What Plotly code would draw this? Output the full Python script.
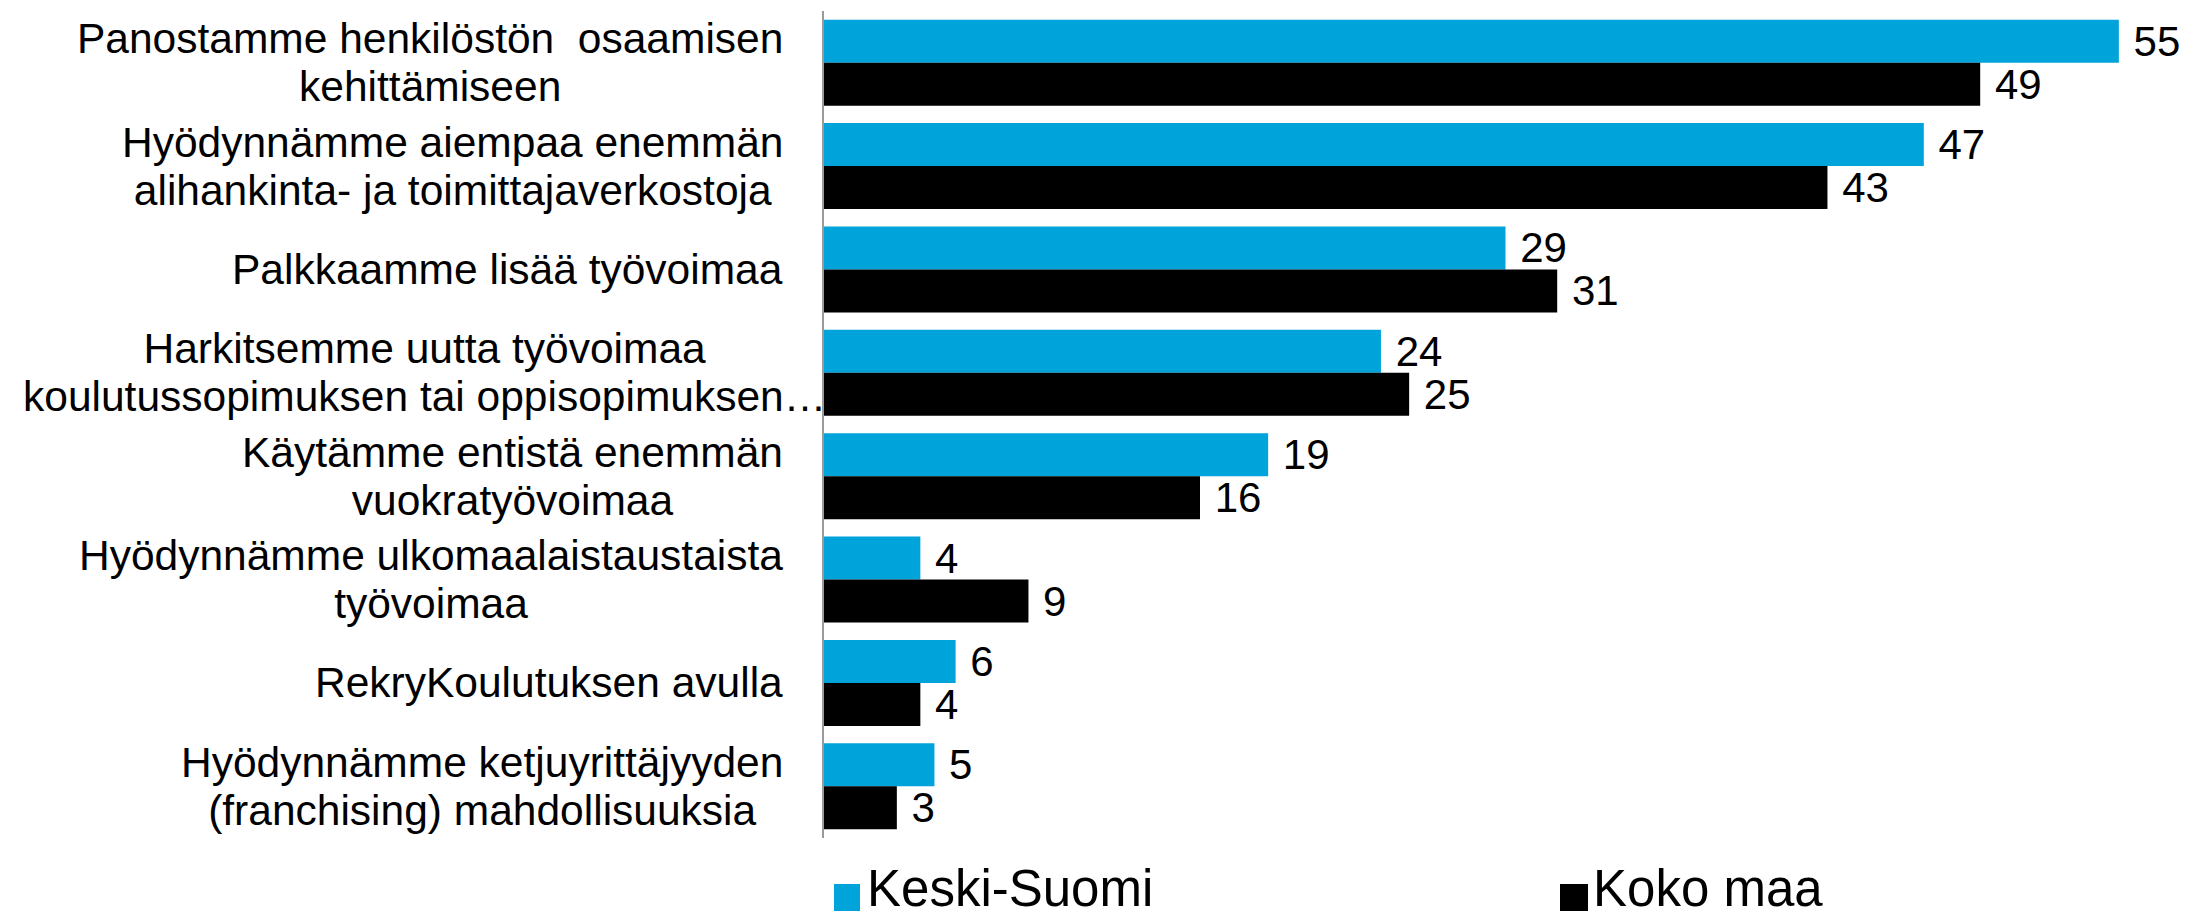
import plotly.graph_objects as go

categories = [
    "Panostamme henkilöstön\u00a0 osaamisen<br>kehittämiseen",
    "Hyödynnämme aiempaa enemmän<br>alihankinta- ja toimittajaverkostoja",
    "Palkkaamme lisää työvoimaa",
    "Harkitsemme uutta työvoimaa<br>koulutussopimuksen tai oppisopimuksen…",
    "Käytämme entistä enemmän<br>vuokratyövoimaa",
    "Hyödynnämme ulkomaalaistaustaista<br>työvoimaa",
    "RekryKoulutuksen avulla",
    "Hyödynnämme ketjuyrittäjyyden<br>(franchising) mahdollisuuksia",
]
keski_suomi = [55.1, 46.8, 29.0, 23.7, 18.9, 4.1, 5.6, 4.7]
koko_maa = [49.2, 42.7, 31.2, 24.9, 16.0, 8.7, 4.1, 3.1]
series_names = ["Keski-Suomi", "Koko maa"]
series_colors = ["#00A3DA", "#000000"]

W, H = 2197, 914
ML, MR, MT, MB = 816, 0, 3, 84
PW, PH = W - ML - MR, H - MT - MB
FONT = "Liberation Sans, Arial, sans-serif"
LABEL_SIZE = 42.5
LINE_GAP = 48  # px between label baselines


def px_x(px):
    return (px - ML) / PW


def px_y(py):
    return (H - MB - py) / PH


fig = go.Figure()
for name, vals, col in zip(series_names, [keski_suomi, koko_maa], series_colors):
    fig.add_trace(go.Bar(
        y=categories, x=vals, name=name, orientation="h",
        marker=dict(color=col, line=dict(width=0)),
        texttemplate="\u00a0%{x:.0f}", textposition="outside",
        textfont=dict(size=42, color="black", family=FONT),
        constraintext="none", cliponaxis=False, showlegend=False,
    ))


def styled(cat):
    lines = cat.split("<br>")
    return "<br>".join(
        '<span style="font-size:%spx">%s</span>' % (LABEL_SIZE, ln) for ln in lines)


annotations = []
for cat in categories:
    common = dict(xref="paper", yref="y", x=0, y=cat, yanchor="middle",
                  align="center", text=styled(cat), showarrow=False,
                  font=dict(size=LINE_GAP / 1.3, color="black", family=FONT))
    if "…" in cat:
        annotations.append(dict(xshift=-400, xanchor="center", **common))
    else:
        annotations.append(dict(xshift=-39, xanchor="right", **common))

# legend (custom, large square symbols)
shapes = []
legend_pos = [(826, 852, 858), (1552, 1580, 1584)]
for (x0, x1, tx), name, col in zip(legend_pos, series_names, series_colors):
    shapes.append(dict(type="rect", xref="paper", yref="paper",
                       x0=px_x(x0), x1=px_x(x1), y0=px_y(903), y1=px_y(876),
                       fillcolor=col, line=dict(width=0)))
    annotations.append(dict(xref="paper", yref="paper", x=px_x(tx), y=px_y(880),
                            xanchor="left", yanchor="middle", text=name, showarrow=False,
                            borderpad=0,
                            font=dict(size=51, color="black", family=FONT)))

fig.update_layout(
    width=W, height=H,
    margin=dict(l=ML, r=MR, t=MT, b=MB, pad=0),
    paper_bgcolor="white", plot_bgcolor="white",
    barmode="group", bargap=0.168, bargroupgap=0,
    font=dict(family=FONT, color="black"),
    xaxis=dict(range=[0, PW / 23.5], showgrid=False, zeroline=False,
               showticklabels=False, ticks="", showline=False),
    yaxis=dict(autorange="reversed", showgrid=False, zeroline=False,
               showticklabels=False, ticks="", showline=True,
               linecolor="#9a9a9a", linewidth=2),
    annotations=annotations, shapes=shapes,
    showlegend=False,
)

fig.write_html("out.html")
